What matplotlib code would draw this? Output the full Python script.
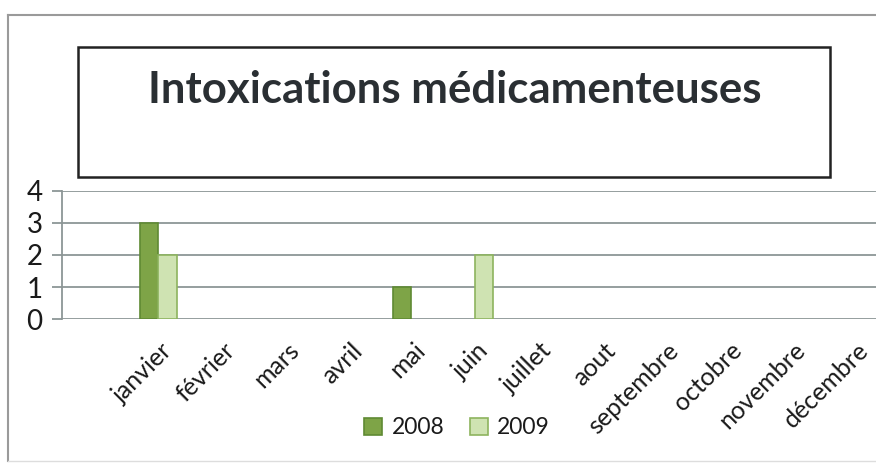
import matplotlib
matplotlib.use("Agg")
import matplotlib.pyplot as plt
import matplotlib.patches as mpatches
import matplotlib.transforms as mtransforms
import numpy as np

months = ["janvier", "février", "mars", "avril", "mai", "juin", "juillet",
          "aout", "septembre", "octobre", "novembre", "décembre"]
v2008 = [3, 0, 0, 0, 1, 0, 0, 0, 0, 0, 0, 0]
v2009 = [2, 0, 0, 0, 0, 2, 0, 0, 0, 0, 0, 0]
series_labels = ["2008", "2009"]
title = "Intoxications médicamenteuses"
yticks = [0, 1, 2, 3, 4]

FONT = ["Lato", "DejaVu Sans"]
plt.rcParams["font.family"] = FONT

W, H = 876, 463
fig = plt.figure(figsize=(W / 100, H / 100), dpi=100)
fig.patch.set_facecolor("white")

def fx(px):
    return px / W

def fy(py):
    return 1 - py / H

# outer frame lines
fig.add_artist(plt.Line2D([fx(8), fx(8)], [fy(15), fy(461)], color="#9a9a9a", lw=1.5))
fig.add_artist(plt.Line2D([fx(8), fx(876)], [fy(15), fy(15)], color="#9a9a9a", lw=1.5))
fig.add_artist(plt.Line2D([fx(8), fx(876)], [fy(461), fy(461)], color="#dddddd", lw=1))

# title box
fig.add_artist(mpatches.Rectangle((fx(78), fy(177)), fx(830 - 78), (177 - 47) / H,
                                  fill=False, edgecolor="#222222", lw=1.8))
fig.text(fx(455), fy(90), title, ha="center", va="center", fontsize=31.5,
         fontweight="bold", color="#2a2f33")

# axes
ax_left, ax_right, ax_top, ax_bot = 62, 876, 191, 319
ax = fig.add_axes([fx(ax_left), fy(ax_bot), fx(ax_right - ax_left), (ax_bot - ax_top) / H])
x = np.arange(len(months))
bw = 0.29
c08, e08 = "#7ea447", "#5f8a33"
c09, e09 = "#cfe3b2", "#8db45e"
lw08 = [1.2 if v else 0 for v in v2008]
lw09 = [1.2 if v else 0 for v in v2009]
ax.bar(x - bw / 2, v2008, bw, color=c08, edgecolor=e08, linewidth=lw08, zorder=3,
       label=series_labels[0])
ax.bar(x + bw / 2, v2009, bw, color=c09, edgecolor=e09, linewidth=lw09, zorder=3,
       label=series_labels[1])
ax.set_xlim(-1.52, 11.34)
ax.set_ylim(0, 4)
ax.set_yticks(yticks)
ax.set_yticklabels([str(t) for t in yticks], fontsize=20, color="#1a1a1a")
ax.yaxis.grid(True, color="#8c9696", lw=1.3, zorder=0)
for s in ["top", "right", "bottom"]:
    ax.spines[s].set_visible(False)
ax.spines["left"].set_color("#8c9696")
ax.spines["left"].set_linewidth(1.3)
ax.tick_params(axis="y", length=7, width=1.3, color="#8c9696", pad=7)
ax.set_xticks(x)
ax.set_xticklabels(months, rotation=45, ha="right", va="top", rotation_mode="anchor",
                   fontsize=18, color="#1a1a1a")
ax.tick_params(axis="x", length=0, pad=14)
offset = mtransforms.ScaledTranslation(2 / 100, 0, fig.dpi_scale_trans)
for lab in ax.get_xticklabels():
    lab.set_transform(lab.get_transform() + offset)

leg = fig.legend(loc="center", bbox_to_anchor=(fx(457), fy(428)), ncol=2, frameon=False,
                 fontsize=16.5, handlelength=0.8, handleheight=0.8, handletextpad=0.4,
                 columnspacing=1.1)
for t in leg.get_texts():
    t.set_color("#1a1a1a")

fig.savefig("out.png", dpi=100)
